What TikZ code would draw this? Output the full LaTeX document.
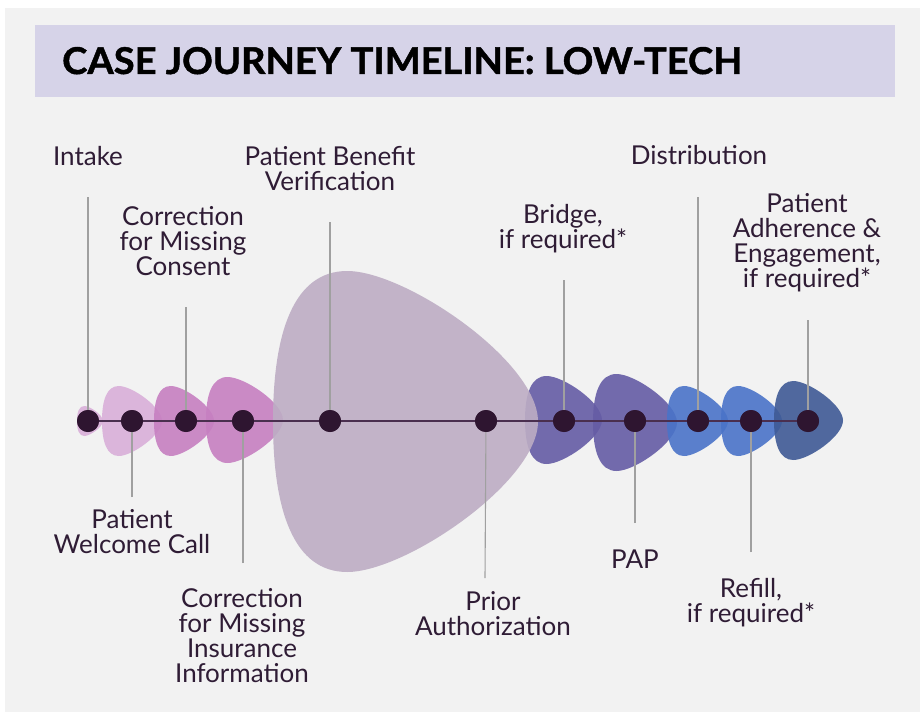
\documentclass[tikz,border=0pt]{standalone}
\usepackage{fontspec}
\setmainfont{Lato}
\usepackage{graphicx}
\definecolor{panel}{HTML}{F2F2F2}
\definecolor{titlebg}{HTML}{D6D3E8}
\definecolor{ink}{HTML}{2F1C35}
\definecolor{dotc}{HTML}{2E1530}
\definecolor{leadc}{HTML}{A0A0A0}
\definecolor{linec}{HTML}{4A2F4F}
\definecolor{pinkA}{HTML}{D9AFD9}
\definecolor{pinkB}{HTML}{C67FC1}
\definecolor{mauve}{HTML}{BDADC4}
\definecolor{violet}{HTML}{655CA5}
\definecolor{blueA}{HTML}{4A73C8}
\definecolor{blueB}{HTML}{3F5A95}
\newcommand\blobshape[5]{%
  \begin{scope}[shift={(#2,#3)},xscale=#4,yscale=#5]
    \fill[#1,fill opacity=0.9] (0,0) .. controls (0,0.3) and (0.08,0.5) .. (0.28,0.5)
      .. controls (0.5,0.5) and (1,0.2) .. (1,0)
      .. controls (1,-0.2) and (0.5,-0.5) .. (0.28,-0.5)
      .. controls (0.08,-0.5) and (0,-0.3) .. (0,0) -- cycle;
  \end{scope}}
\begin{document}
\begin{tikzpicture}[x=1pt,y=-1pt,
  dot/.style={circle,fill=dotc,minimum size=22pt,inner sep=0pt},
  lbl/.style={text=ink,font=\fontsize{26}{24.8}\selectfont,align=center,anchor=base,inner sep=0pt},
  leader/.style={draw=leadc,line width=1.1pt},
  tline/.style={draw=linec,line width=1.5pt}]
\useasboundingbox (0,0) rectangle (920,714);
\fill[white] (0,0) rectangle (920,714);
\fill[panel] (5,8) rectangle (920,712);
\fill[titlebg] (35,25) rectangle (895,97);
\node[anchor=base west,inner sep=0pt,text=black] (title) at (62,74)
  {\resizebox{680pt}{27pt}{\bfseries\addfontfeatures{FakeBold=1.2}CASE JOURNEY TIMELINE: LOW-TECH}};

% blobs
\blobshape{pinkA}{77}{421}{26}{30}
\blobshape{pinkA}{102}{421}{60}{70}
\blobshape{pinkB}{154}{421}{60}{70}
\blobshape{pinkB}{206}{420}{77}{86}
\blobshape{violet}{525}{420}{77}{88}
\blobshape{mauve}{273}{421.5}{265}{301}
\blobshape{violet}{593}{422.5}{84}{97}
\blobshape{blueA}{667}{421}{61}{70}
\blobshape{blueA}{721}{421}{61}{70}
\blobshape{blueB}{774}{420.5}{69}{79}

% dots
\node[dot] (d1) at (88,421) {};
\node[dot] (d2) at (132,421) {};
\node[dot] (d3) at (186,421) {};
\node[dot] (d4) at (243,421) {};
\node[dot] (d5) at (330,421) {};
\node[dot] (d6) at (486,421) {};
\node[dot] (d7) at (564,421) {};
\node[dot] (d8) at (635,421) {};
\node[dot] (d9) at (698,421) {};
\node[dot] (d10) at (751,421) {};
\node[dot] (d11) at (808,421) {};

% leader end points
\coordinate (e1) at (88,197);
\coordinate (e2) at (132,497);
\coordinate (e3) at (186,307);
\coordinate (e4) at (243,563);
\coordinate (e5) at (330,222);
\coordinate (e6) at (485,578);
\coordinate (e7) at (564,280);
\coordinate (e8) at (635,523);
\coordinate (e9) at (698,197);
\coordinate (e10) at (751,552);
\coordinate (e11) at (808,320);

\foreach \i in {1,...,11} {\draw[leader] (e\i) -- (d\i.center);}
\draw[tline] (d1.center) -- (d11.center);
\foreach \i in {1,...,11} {\node[dot] at (d\i) {};}

% labels (anchor = baseline of last line)
\node[lbl] (l1) at (88,166) {Intake};
\node[lbl] (l5) at (330,190) {Patient Benefit\\Verification};
\node[lbl] (l3) at (183,275) {Correction\\for Missing\\Consent};
\node[lbl] (l7) at (563,248) {Bridge,\\if required*};
\node[lbl] (l9) at (699,165) {Distribution};
\node[lbl] (l11) at (807,287) {Patient\\Adherence \&\\Engagement,\\if required*};
\node[lbl] (l2) at (132,553) {Patient\\Welcome Call};
\node[lbl] (l4) at (242,682) {Correction\\for Missing\\Insurance\\Information};
\node[lbl] (l6) at (493,635) {Prior\\Authorization};
\node[lbl] (l8) at (635,568) {PAP};
\node[lbl] (l10) at (751,622) {Refill,\\if required*};
\end{tikzpicture}
\end{document}
